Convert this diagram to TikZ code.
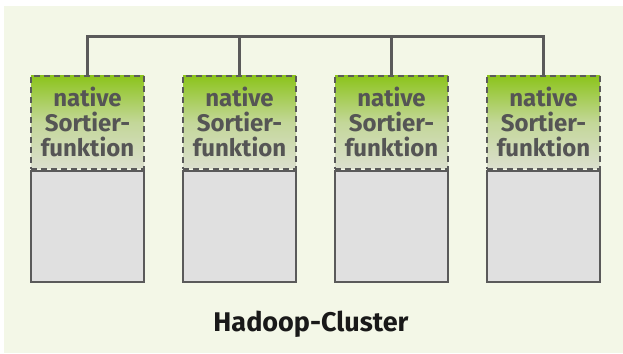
\documentclass[tikz,border=0pt]{standalone}
\usepackage{fontspec}
\setmainfont{Fira Sans}
\usetikzlibrary{calc}

\definecolor{bgcol}{RGB}{243,247,231}
\definecolor{linecol}{RGB}{90,90,90}
\definecolor{topgreen}{RGB}{140,196,28}
\definecolor{lowgreen}{RGB}{219,223,206}
\definecolor{basecol}{RGB}{224,224,224}
\definecolor{labelcol}{RGB}{85,85,85}

\tikzset{
    sortbox/.style={draw=linecol, line width=2.4pt, dash pattern=on 6pt off 4pt,
        top color=topgreen, bottom color=lowgreen, middle color=lowgreen!70!topgreen,
        minimum width=113, minimum height=93, inner sep=0pt, align=center, anchor=south,
        text=labelcol, font=\fontsize{24}{25}\selectfont\bfseries},
    basebox/.style={draw=linecol, line width=2.4pt, fill=basecol,
        minimum width=113, minimum height=111, inner sep=0pt, anchor=north},
    bus/.style={draw=linecol, line width=2.4pt}
}

\begin{document}
\begin{tikzpicture}[x=1pt,y=-1pt]
            \useasboundingbox (0,0) rectangle (623,353);
            \fill [bgcol] (4,6) rectangle (623,353);

            \node (B1) at (87.5,170) [basebox] {};
            \node (B2) at ($(B1.north) + (152,0) $) [basebox] {};
            \node (B3) at ($(B2.north) + (152,0) $) [basebox] {};
            \node (B4) at ($(B3.north) + (152,0) $) [basebox] {};

            \foreach \n in {1, 2, 3, 4}
                {
                    \node (S\n) at (B\n.north) [sortbox] {native\\Sortier-\\funktion};
                }

                \coordinate (busL) at ($(S1.north) + (0,-38)$);
                \coordinate (busR) at ($(S4.north) + (0,-38)$);
                \draw [bus] (S1.north) -- (busL) -- (busR) -- (S4.north);
                \draw [bus] (S2.north) -- ($(S2.north) + (0,-38)$);
                \draw [bus] (S3.north) -- ($(S3.north) + (0,-38)$);

                \node (title) at (311,324) [font=\fontsize{27}{30}\selectfont\bfseries, text=black!90] {Hadoop-Cluster};

        \end{tikzpicture}
\end{document}
